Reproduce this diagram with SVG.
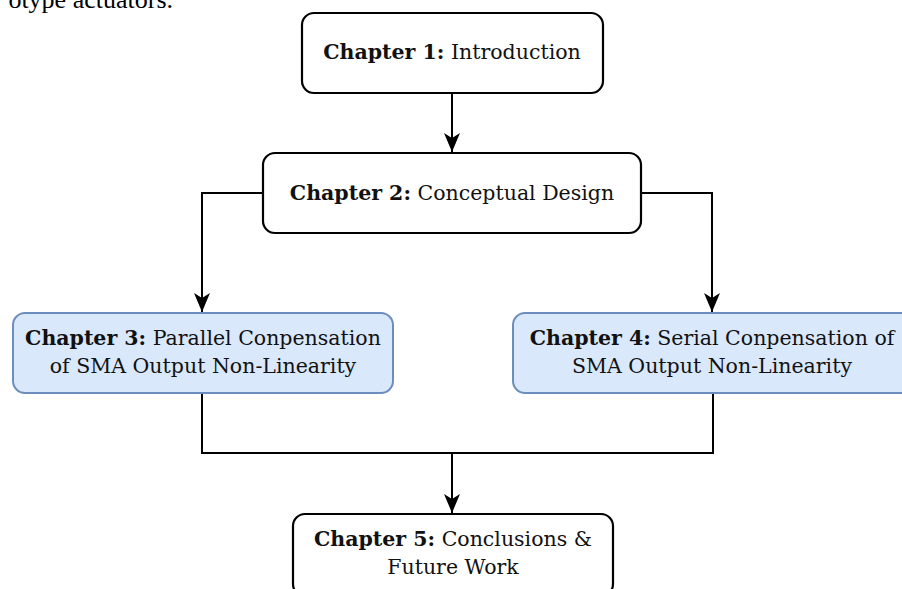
<svg xmlns="http://www.w3.org/2000/svg" width="902" height="589" viewBox="0 0 902 589">
<style>
.box{fill:#ffffff;stroke:#000000;stroke-width:2.2}
.blue{fill:#dae8fc;stroke:#6c8ebf;stroke-width:2}
.lbl{font-family:"DejaVu Serif","Liberation Serif",serif;font-size:20.5px;fill:#111111;text-anchor:middle}
.b{font-weight:bold}
.edge{fill:none;stroke:#000000;stroke-width:2}
.body{font-family:"Liberation Serif",serif;font-size:26px;fill:#000000}
</style>
<defs>
<marker id="arr" markerUnits="userSpaceOnUse" markerWidth="22" markerHeight="20" viewBox="-20 -10 22 20" refX="0" refY="0" orient="auto">
<path d="M0,0 L-19,-8 L-14,0 L-19,8 Z" fill="#000000"/>
</marker>
</defs>
<rect width="902" height="589" fill="#ffffff"/>
<text class="body" x="173" y="8" text-anchor="end">otype actuators.</text>
<g id="connectors">
<path class="edge" d="M452,93 L452,152" marker-end="url(#arr)"/>
<path class="edge" d="M263,193 L202,193 L202,312" marker-end="url(#arr)"/>
<path class="edge" d="M641,193 L712,193 L712,312" marker-end="url(#arr)"/>
<path class="edge" d="M202,393 L202,453 L713,453 L713,393"/>
<path class="edge" d="M452,453 L452,513" marker-end="url(#arr)"/>
</g>
<g id="ch1">
<rect class="box" x="302" y="13" width="301" height="80" rx="12"/>
<text class="lbl" x="452" y="59"><tspan class="b">Chapter 1:</tspan> Introduction</text>
</g>
<g id="ch2">
<rect class="box" x="263" y="153" width="378" height="80" rx="12"/>
<text class="lbl" x="452" y="200"><tspan class="b">Chapter 2:</tspan> Conceptual Design</text>
</g>
<g id="ch3">
<rect class="blue" x="13" y="313" width="380" height="80" rx="12"/>
<text class="lbl" x="203" y="345"><tspan class="b">Chapter 3:</tspan> Parallel Conpensation</text>
<text class="lbl" x="203" y="373">of SMA Output Non-Linearity</text>
</g>
<g id="ch4">
<rect class="blue" x="513" y="313" width="400" height="80" rx="12"/>
<text class="lbl" x="712" y="345"><tspan class="b">Chapter 4:</tspan> Serial Conpensation of</text>
<text class="lbl" x="712" y="373">SMA Output Non-Linearity</text>
</g>
<g id="ch5">
<rect class="box" x="293" y="514" width="320" height="82" rx="12"/>
<text class="lbl" x="453" y="546"><tspan class="b">Chapter 5:</tspan> Conclusions &amp;</text>
<text class="lbl" x="453" y="574">Future Work</text>
</g>
</svg>
